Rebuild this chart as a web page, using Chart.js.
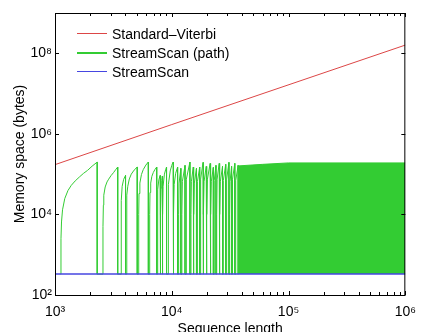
<!DOCTYPE html>
<html>
<head>
<meta charset="utf-8">
<script src="https://cdn.jsdelivr.net/npm/chart.js@4.4.1/dist/chart.umd.min.js"></script>
<style>
  body { margin: 0; background: #fff; }
  #wrap { position: relative; width: 425px; height: 332px; overflow: hidden; }
  #legend { position: absolute; left: 77px; top: 24px; font: 14px 'Liberation Sans', Arial, sans-serif; color: #000; }
  #legend .row { display: flex; align-items: center; height: 19px; white-space: nowrap; }
  #legend .swatch { display: inline-block; width: 30px; margin-right: 5px; }
</style>
</head>
<body>
<div id="wrap">
  <canvas id="chart"></canvas>
  <div id="legend"></div>
</div>
<script>
// Standard-Viterbi grows linearly with sequence length
const viterbiX = [1e3, 1e4, 1e6];
const viterbiY = [1.72e5, 1.7e6, 1.6e8];

// StreamScan stays flat
const streamScanX = [1e3, 1e6];
const streamScanY = [330, 330];

// StreamScan (path): sawtooth, each tooth rises from the baseline and drops back
const pathBase = 330;
const toothStart = [1116, 2567, 3680, 4097, 5200, 6460, 7540, 8030, 8350, 9310,
  10390, 11440, 12190, 13240, 14580, 15450, 16490, 17570, 18720, 19990,
  21590, 23000, 24230, 25810, 27500, 29360, 31290, 32960, 35120];
const toothPeakX = [2298, 3444, 4018, 5060, 6300, 7430, 7940, 8300, 9020, 10250,
  11220, 11960, 12990, 14300, 15270, 16270, 17340, 18510, 19720, 21300,
  22690, 23900, 25470, 27190, 28970, 30870, 32520, 34650, 37000];
const toothPeak = [1.99e5, 1.5e5, 9.3e4, 1.5e5, 2e5, 1.5e5, 9.3e4, 9e4, 1.5e5, 1.99e5,
  1.5e5, 1.39e5, 1.65e5, 1.99e5, 1.5e5, 1.39e5, 1.5e5, 1.96e5, 1.56e5, 1.85e5,
  1.47e5, 1.65e5, 1.85e5, 1.56e5, 1.75e5, 1.96e5, 1.56e5, 1.85e5, 1.65e5];
// points along the rising edge of each tooth
const toothRise = [
  [[1125, 2500], [1137, 6500], [1160, 13000], [1212, 24700], [1290, 39000], [1379, 52800],
    [1490, 68000], [1617, 84800], [1750, 104000], [1899, 124000], [2080, 158000]],
  [[2575, 5000], [2595, 17000], [2617, 30000], [2690, 48000], [2788, 64000], [2880, 75000],
    [3020, 92000], [3170, 109000], [3300, 128000]],
  [[3685, 6000], [3700, 22000], [3760, 50000], [3870, 74000]],
  [[4105, 10000], [4130, 30000], [4200, 50000], [4330, 76000], [4500, 100000], [4760, 126000]],
  [[5210, 10000], [5240, 33000], [5330, 60000], [5500, 98000], [5700, 130000], [6000, 168000]],
  [[6470, 10000], [6510, 35000], [6600, 60000], [6750, 88000], [6950, 110000], [7180, 131000]],
  [[7550, 10000], [7600, 42000], [7750, 72000]],
  [[8040, 10000], [8100, 45000], [8200, 70000]],
  [[8360, 10000], [8420, 50000], [8650, 100000], [8850, 128000]],
  [[9320, 10000], [9380, 55000], [9700, 120000], [10000, 165000]],
  [[10400, 10000], [10480, 55000], [10800, 105000]],
  [[11450, 10000], [11550, 60000]],
  [[12200, 10000], [12320, 65000]],
  [[13250, 10000], [13400, 75000]],
  [[14600, 10000], [14720, 65000]],
  [[15470, 10000], [15600, 60000]],
  [[16510, 10000], [16650, 65000]],
  [[17590, 10000], [17750, 75000]],
  [[18740, 10000], [18900, 65000]],
  [[20010, 10000], [20200, 75000]],
  [[21610, 10000], [21800, 65000]],
  [[23020, 10000], [23200, 70000]],
  [[24250, 10000], [24450, 75000]],
  [[25830, 10000], [26050, 65000]],
  [[27520, 10000], [27750, 70000]],
  [[29380, 10000], [29650, 75000]],
  [[31310, 10000], [31550, 65000]],
  [[32980, 10000], [33250, 75000]],
  [[35140, 10000], [35450, 70000]]
];
// beyond ~4e4 the teeth are so close they form a solid band
const denseX = [37000, 60000, 100000, 1e6];
const denseY = [1.6e5, 1.75e5, 1.9e5, 1.9e5];

// ticks
const xTickValues = [1e3, 1e4, 1e5, 1e6];
const xMinorTicks = [2e3, 3e3, 4e3, 5e3, 6e3, 7e3, 8e3, 9e3,
  2e4, 3e4, 4e4, 5e4, 6e4, 7e4, 8e4, 9e4,
  2e5, 3e5, 4e5, 5e5, 6e5, 7e5, 8e5, 9e5];
const yTickValues = [1e2, 1e4, 1e6, 1e8];

const RED = 'rgb(220,70,70)';
const GREEN = 'rgb(51,204,51)';
const BLUE = 'rgb(70,70,225)';
const FONT = "'Liberation Sans', Arial, Helvetica, sans-serif";

const sup = { 2: '²', 3: '³', 4: '⁴', 5: '⁵', 6: '⁶', 8: '⁸' };
const powerLabel = (v) => '10' + sup[Math.round(Math.log10(v))];

const toXY = (xs, ys) => xs.map((x, i) => ({ x: x, y: ys[i] }));

const pathPoints = [];
toothStart.forEach((start, i) => {
  pathPoints.push({ x: start, y: pathBase });
  toothRise[i].forEach(([x, y]) => pathPoints.push({ x: x, y: y }));
  pathPoints.push({ x: toothPeakX[i], y: toothPeak[i] });
  pathPoints.push({ x: toothPeakX[i], y: pathBase });
});

// inward tick marks and the box round the plot
const frame = {
  id: 'frame',
  afterDraw(chart) {
    const { ctx, chartArea: a, scales: { x, y } } = chart;
    ctx.save();
    ctx.strokeStyle = '#000';
    ctx.lineWidth = 1;
    ctx.beginPath();
    const xTick = (v, len) => {
      const px = Math.round(x.getPixelForValue(v)) + 0.5;
      ctx.moveTo(px, a.bottom); ctx.lineTo(px, a.bottom - len);
      ctx.moveTo(px, a.top); ctx.lineTo(px, a.top + len);
    };
    xTickValues.forEach(v => xTick(v, 4));
    xMinorTicks.forEach(v => xTick(v, 3));
    yTickValues.forEach(v => {
      const py = Math.round(y.getPixelForValue(v)) + 0.5;
      ctx.moveTo(a.left, py); ctx.lineTo(a.left + 4, py);
      ctx.moveTo(a.right, py); ctx.lineTo(a.right - 4, py);
    });
    ctx.stroke();
    ctx.strokeRect(a.left + 0.5, a.top + 0.5, a.right - a.left - 1, a.bottom - a.top);
    ctx.restore();
  }
};

const datasets = [
  {
    label: 'Standard–Viterbi',
    data: toXY(viterbiX, viterbiY),
    borderColor: RED,
    borderWidth: 1,
    order: 0
  },
  {
    label: 'StreamScan (path)',
    data: pathPoints,
    borderColor: GREEN,
    borderWidth: 1,
    order: 3
  },
  {
    label: 'StreamScan',
    data: toXY(streamScanX, streamScanY),
    borderColor: BLUE,
    borderWidth: 1.5,
    order: 1
  },
  {
    label: 'StreamScan (path) dense',
    data: toXY(denseX, denseY),
    borderColor: GREEN,
    backgroundColor: GREEN,
    borderWidth: 1,
    fill: 2,
    order: 4
  }
];

new Chart(document.getElementById('chart'), {
  type: 'line',
  data: { datasets: datasets },
  options: {
    responsive: true,
    maintainAspectRatio: false,
    animation: false,
    layout: { padding: { top: 13, right: 11, left: 0, bottom: 0 } },
    elements: { point: { radius: 0 }, line: { tension: 0 } },
    plugins: { legend: { display: false }, tooltip: { enabled: false } },
    scales: {
      x: {
        type: 'logarithmic',
        min: 1e3,
        max: 1e6,
        afterBuildTicks: (scale) => { scale.ticks = xTickValues.map(v => ({ value: v })); },
        afterFit: (scale) => { scale.height = 37; },
        grid: { display: false, drawTicks: false },
        border: { display: false },
        ticks: {
          autoSkip: false,
          maxRotation: 0,
          padding: 9,
          color: '#000',
          font: { family: FONT, size: 14 },
          callback: (v) => powerLabel(v)
        },
        title: {
          display: true,
          text: 'Sequence length',
          color: '#000',
          font: { family: FONT, size: 14 },
          padding: { top: 0, bottom: -6 }
        }
      },
      y: {
        type: 'logarithmic',
        min: 1e2,
        max: 1e9,
        afterBuildTicks: (scale) => { scale.ticks = yTickValues.map(v => ({ value: v })); },
        afterFit: (scale) => { scale.width = 55; },
        grid: { display: false, drawTicks: false },
        border: { display: false },
        ticks: {
          padding: 3,
          color: '#000',
          font: { family: FONT, size: 14 },
          callback: (v) => powerLabel(v)
        },
        title: {
          display: true,
          text: 'Memory space (bytes)',
          color: '#000',
          font: { family: FONT, size: 14 },
          padding: { top: 12, bottom: 0 }
        }
      }
    }
  },
  plugins: [frame]
});

// legend inside the plot, top left
const legendItems = [
  { text: 'Standard–Viterbi', color: RED, width: 1 },
  { text: 'StreamScan (path)', color: GREEN, width: 2 },
  { text: 'StreamScan', color: BLUE, width: 1 }
];
const legend = document.getElementById('legend');
legendItems.forEach(item => {
  const row = document.createElement('div');
  row.className = 'row';
  const sw = document.createElement('span');
  sw.className = 'swatch';
  sw.style.height = item.width + 'px';
  sw.style.background = item.color;
  row.appendChild(sw);
  row.appendChild(document.createTextNode(item.text));
  legend.appendChild(row);
});
</script>
</body>
</html>
